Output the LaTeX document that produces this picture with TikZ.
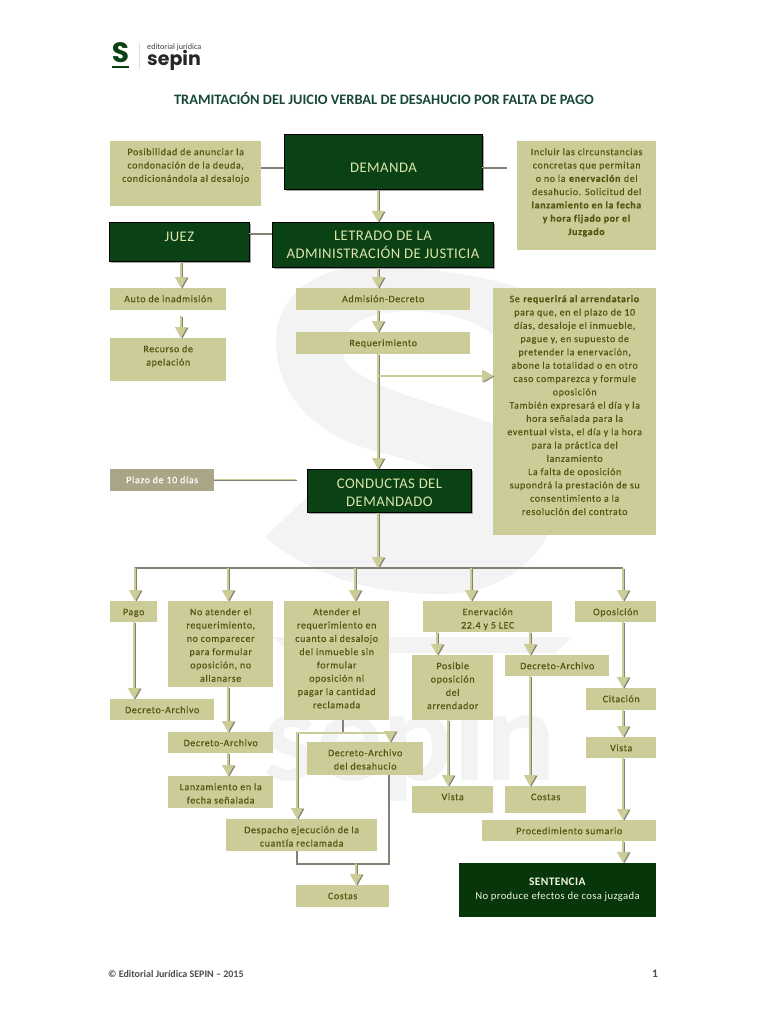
\documentclass[tikz,border=0pt]{standalone}
\usepackage{fontspec}
\setmainfont{Carlito}
\newfontfamily\boxfont[LetterSpace=6, Ligatures=NoCommon, FakeBold=0.25]{Carlito}
\newfontfamily\headfont[LetterSpace=3, Ligatures=NoCommon]{Carlito}
\newfontfamily\logofont{Poppins}
\usepackage{xcolor}
\usetikzlibrary{arrows.meta, shadows}
\definecolor{khaki}{RGB}{204, 204, 153}
\definecolor{linegray}{RGB}{130, 130, 115}
\definecolor{olivetext}{RGB}{84, 84, 16}
\definecolor{deepgreen}{RGB}{10, 66, 22}
\definecolor{sentgreen}{RGB}{6, 54, 10}
\definecolor{palegreen}{RGB}{220, 228, 170}
\definecolor{plazogray}{RGB}{170, 165, 135}
\definecolor{markgray}{RGB}{243, 243, 243}
\definecolor{titlegreen}{RGB}{24, 72, 58}
\newcommand{\tb}[4][14]{\begin{minipage}[c][#3pt][t]{#2pt}\centering
  \leavevmode\rule{0pt}{#1pt}#4\end{minipage}}
\tikzset{
  tan/.style={fill=khaki, text=olivetext, inner sep=0pt, anchor=north west,
              font=\boxfont\fontsize{10}{13.3}\selectfont},
  dark/.style={fill=deepgreen, draw=black, line width=0.9pt, text=palegreen,
               inner sep=0pt, anchor=north west,
               font=\headfont\fontsize{14.7}{18.5}\selectfont,
               drop shadow={shadow xshift=2pt, shadow yshift=-2pt,
                            fill=gray!70, opacity=1}},
  arr/.style={-{Triangle[length=11pt, width=12pt]}, draw=khaki, line width=#1,
              preaction={draw=linegray, line width=#1,
                         -{Triangle[length=11pt, width=12pt]},
                         transform canvas={xshift=1.3pt, yshift=-0.6pt}}},
  arr/.default=1.7pt,
  lin/.style={draw=linegray, line width=1.1pt,
              preaction={draw=khaki, line width=1.1pt,
                         transform canvas={xshift=-0.8pt, yshift=0.8pt}}},
}

\begin{document}
\begin{tikzpicture}[x=1pt, y=-1pt]
  \useasboundingbox (0,0) rectangle (768,1024);

  % watermark
  \fill[markgray] (265,537) .. controls (310,575) and (370,594) .. (440,594)
    .. controls (510,594) and (560,550) .. (560,480)
    .. controls (560,420) and (400,410) .. (350,367)
    .. controls (335,350) and (340,325) .. (375,315)
    .. controls (420,305) and (470,315) .. (493,335)
    -- (520,288)
    .. controls (480,275) and (420,266) .. (373,266)
    .. controls (310,266) and (276,300) .. (276,340)
    .. controls (276,400) and (320,440) .. (390,455)
    .. controls (430,465) and (465,480) .. (471,505)
    -- (307,497) -- cycle;
  \fill[markgray] (273,637) -- (573,637) -- (555,653) -- (290,653) -- cycle;
  \node[text=markgray, font=\fontsize{132}{132}\selectfont\bfseries, inner sep=0pt]
    (marksepin) at (410,745) {sepin};

  % logo and title
  \node[text=deepgreen, font=\logofont\fontsize{28}{28}\selectfont\bfseries, inner sep=0pt,
        anchor=base] (logos) at (120.5,63) {S};
  \draw[deepgreen, line width=1.2pt] (112,67) -- (129,67);
  \draw[gray!25, line width=1pt] (139,43) -- (139,69);
  \node[text=black!75, font=\fontsize{8.2}{8.2}\selectfont, anchor=base west, inner sep=0pt]
    (logoed) at (147,49.5) {editorial jurídica};
  \node[text=black!85, font=\logofont\fontsize{19}{19}\selectfont\bfseries,
        anchor=base west, inner sep=0pt] (logosepin) at (147,65.5) {sepin};
  \node[text=titlegreen, font=\fontsize{14.4}{14.4}\selectfont\bfseries, inner sep=0pt]
    (titulo) at (384,99) {TRAMITACIÓN DEL JUICIO VERBAL DE DESAHUCIO POR FALTA DE PAGO};

  % ---- top block ----
  \node[tan] (posib) at (110,141) {\tb{151}{65}{Posibilidad de anunciar la\\
    condonación de la deuda,\\condicionándola al desalojo}};
  \node[dark] (demanda) at (284,134) {\tb[38]{198}{55}{DEMANDA}};
  \node[tan] (incluir) at (517,141) {\tb{139}{109}{Incluir las circunstancias\\
    concretas que permitan\\o no la \textbf{enervación} del\\desahucio. Solicitud del\\
    \textbf{lanzamiento en la fecha}\\\textbf{y hora fijado por el}\\\textbf{Juzgado}}};
  \node[dark] (juez) at (109,222) {\tb[19]{140}{39}{JUEZ}};
  \node[dark] (letrado) at (272,222) {\tb[18]{221}{45}{LETRADO DE LA\\ADMINISTRACIÓN DE JUSTICIA}};

  % ---- second block ----
  \node[tan] (auto) at (110,288) {\tb{116}{22}{Auto de inadmisión}};
  \node[tan] (recurso) at (110,338) {\tb{116}{43}{Recurso de\\apelación}};
  \node[tan] (admision) at (296,288) {\tb{174}{22}{Admisión-Decreto}};
  \node[tan] (requer) at (296,332) {\tb{174}{22}{Requerimiento}};
  \node[tan] (sereq) at (493,288) {\tb{163}{247}{Se \textbf{requerirá al arrendatario}\\
    para que, en el plazo de 10\\días, desaloje el inmueble,\\pague y, en supuesto de\\
    pretender la enervación,\\abone la totalidad o en otro\\caso comparezca y formule\\
    oposición\\También expresará el día y la\\hora señalada para la\\
    eventual vista, el día y la hora\\para la práctica del\\lanzamiento\\
    La falta de oposición\\supondrá la prestación de su\\consentimiento a la\\
    resolución del contrato}};
  \node[tan, fill=plazogray, text=white] (plazo) at (110,469) {\tb{104}{22}{Plazo de 10 días}};
  \node[dark] (conductas) at (307,469) {\tb[19]{164}{43}{CONDUCTAS DEL\\DEMANDADO}};

  % ---- conductas row ----
  \node[tan] (pago) at (110,601) {\tb{47}{21}{Pago}};
  \node[tan] (noatender) at (168,601) {\tb{105}{86}{No atender el\\requerimiento,\\
    no comparecer\\para formular\\oposición, no\\allanarse}};
  \node[tan] (atender) at (284,601) {\tb{105}{119}{Atender el\\requerimiento en\\
    cuanto al desalojo\\del inmueble sin\\formular\\oposición ni\\pagar la cantidad\\reclamada}};
  \node[tan] (enerv) at (423,601) {\tb{129}{31}{Enervación\\22.4 y 5 LEC}};
  \node[tan] (oposic) at (575,601) {\tb{81}{21}{Oposición}};

  % ---- lower boxes ----
  \node[tan] (decreto1) at (110,699) {\tb{104}{21}{Decreto-Archivo}};
  \node[tan] (decreto2) at (168,732) {\tb{105}{21}{Decreto-Archivo}};
  \node[tan] (lanzam) at (168,776) {\tb{105}{32}{Lanzamiento en la\\fecha señalada}};
  \node[tan] (desah) at (307,742) {\tb{116}{33}{Decreto-Archivo\\del desahucio}};
  \node[tan] (despacho) at (226,819) {\tb{151}{32}{Despacho ejecución de la\\cuantía reclamada}};
  \node[tan] (costas1) at (296,885) {\tb{93}{22}{Costas}};
  \node[tan] (posible) at (412,655) {\tb{81}{65}{Posible\\oposición\\del\\arrendador}};
  \node[tan] (decreto3) at (505,655) {\tb{104}{21}{Decreto-Archivo}};
  \node[tan] (vista2) at (412,786) {\tb{81}{27}{Vista}};
  \node[tan] (costas2) at (505,786) {\tb{81}{27}{Costas}};
  \node[tan] (citacion) at (586,688) {\tb{70}{22}{Citación}};
  \node[tan] (vista1) at (586,737) {\tb{70}{21}{Vista}};
  \node[tan] (proced) at (482,820) {\tb{174}{21}{Procedimiento sumario}};
  \node[fill=sentgreen, text=palegreen!40!white, align=center, inner sep=0pt,
        minimum width=197pt, minimum height=54pt,
        font=\headfont\fontsize{10.7}{14}\selectfont] (sentencia) at (557.5,890)
    {\textbf{\fontsize{11.5}{14}\selectfont SENTENCIA}\\No produce efectos de cosa juzgada};

  % footer
  \node[text=black!70, font=\fontsize{10}{10}\selectfont\bfseries, anchor=west, inner sep=0pt]
    (pie) at (108,974) {© Editorial Jurídica SEPIN – 2015};
  \node[text=black!70, font=\fontsize{11.5}{11.5}\selectfont\bfseries, inner sep=0pt]
    (pagina) at (655,974) {1};

  % junctions
  \coordinate (reqjoin) at (378,376);
  \coordinate (bus) at (378,568);
  \coordinate (atjoin) at (343,733);
  \coordinate (costjoin) at (356,864);

  % plain lines
  \draw[lin] (posib.east |- 0,168) -- (demanda.west |- 0,168);
  \draw[lin, shorten >=10pt] (demanda.east |- 0,168) -- (incluir.west |- 0,168);
  \draw[lin] (juez.east |- 0,234) -- (letrado.west |- 0,234);
  \draw[lin, shorten >=10pt] (plazo.east) -- (conductas.west |- plazo);
  \draw[lin] (bus -| 135,0) -- (bus -| 623,0);
  \draw[lin] (atender.south -| atjoin) -- (atjoin);
  \draw[lin] (despacho.south -| 297,0) |- (costjoin);
  \draw[lin] (desah.south -| 389,0) |- (costjoin);

  % vertical arrows
  \foreach \a/\b/\x in {demanda/letrado/378, letrado/admision/378, admision/requer/378,
                        juez/auto/181,
                        pago/decreto1/134, noatender/decreto2/228, decreto2/lanzam/228,
                        enerv/posible/437, enerv/decreto3/530, posible/vista2/448,
                        decreto3/costas2/530, oposic/citacion/623, citacion/vista1/623,
                        vista1/proced/623, proced/sentencia/623}
    \draw[arr] (\a.south -| \x,0) -- (\b.north -| \x,0);
  \draw[arr, shorten <=6pt] (auto.south -| 181,0) -- (recurso.north -| 181,0);
  \draw[arr=1.1pt] (requer.south -| bus) -- (conductas.north -| bus);
  \draw[arr=1.1pt] (conductas.south -| bus) -- (bus);
  \draw[arr=1.1pt] (reqjoin) -- (sereq.west |- reqjoin);

  % branches from the bus
  \foreach \b/\x in {pago/135, noatender/228, atender/355, enerv/471, oposic/623}
    \draw[arr] (bus -| \x,0) -- (\b.north -| \x,0);

  % elbows at atender
  \draw[arr=1.1pt] (atjoin) -| (despacho.north -| 297,0);
  \draw[arr=1.1pt] (atjoin) -| (desah.north -| 390,0);
  \draw[arr] (costjoin) -- (costas1.north -| costjoin);
\end{tikzpicture}
\end{document}
